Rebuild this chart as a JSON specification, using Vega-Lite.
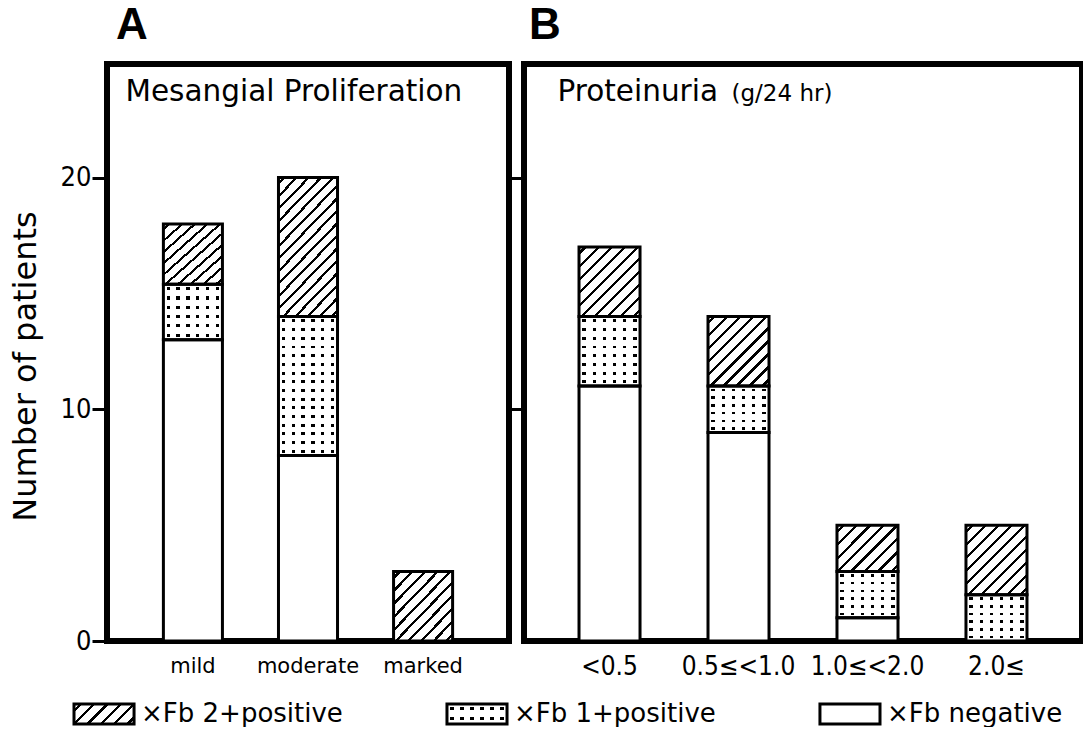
{
  "$schema": "https://vega.github.io/schema/vega-lite/v6.json",
  "padding": {"left": 6, "top": 1, "right": 0, "bottom": 0},
  "background": "white",
  "datasets": {
    "panelA": [
      {"cat": "mild", "status": "neg", "rank": 1, "n": 13},
      {"cat": "mild", "status": "1+", "rank": 2, "n": 2.4},
      {"cat": "mild", "status": "2+", "rank": 3, "n": 2.6},
      {"cat": "moderate", "status": "neg", "rank": 1, "n": 8},
      {"cat": "moderate", "status": "1+", "rank": 2, "n": 6},
      {"cat": "moderate", "status": "2+", "rank": 3, "n": 6},
      {"cat": "marked", "status": "2+", "rank": 3, "n": 3}
    ],
    "panelB": [
      {"cat": "<0.5", "status": "neg", "rank": 1, "n": 11},
      {"cat": "<0.5", "status": "1+", "rank": 2, "n": 3},
      {"cat": "<0.5", "status": "2+", "rank": 3, "n": 3},
      {"cat": "0.5≤<1.0", "status": "neg", "rank": 1, "n": 9},
      {"cat": "0.5≤<1.0", "status": "1+", "rank": 2, "n": 2},
      {"cat": "0.5≤<1.0", "status": "2+", "rank": 3, "n": 3},
      {"cat": "1.0≤<2.0", "status": "neg", "rank": 1, "n": 1},
      {"cat": "1.0≤<2.0", "status": "1+", "rank": 2, "n": 2},
      {"cat": "1.0≤<2.0", "status": "2+", "rank": 3, "n": 2},
      {"cat": "2.0≤", "status": "1+", "rank": 2, "n": 2},
      {"cat": "2.0≤", "status": "2+", "rank": 3, "n": 3}
    ],
    "legend": [
      {"status": "2+", "label": "×Fb 2+positive"},
      {"status": "1+", "label": "×Fb 1+positive"},
      {"status": "neg", "label": "×Fb negative"}
    ]
  },
  "config": {
    "view": {"stroke": "black", "strokeWidth": 6},
    "font": "DejaVu Sans",
    "axis": {"labelColor": "black", "titleColor": "black", "tickColor": "black", "grid": false, "domain": false},
    "title": {"color": "black"},
    "style": {
      "h8": {"color": {"gradient": "linear", "x1": 0, "y1": 0, "x2": 1.116, "y2": 0.847, "stops": [
        {"offset": 0.0469, "color": "white"}, {"offset": 0.0469, "color": "black"}, {"offset": 0.0781, "color": "black"}, {"offset": 0.0781, "color": "white"},
        {"offset": 0.1719, "color": "white"}, {"offset": 0.1719, "color": "black"}, {"offset": 0.2031, "color": "black"}, {"offset": 0.2031, "color": "white"},
        {"offset": 0.2969, "color": "white"}, {"offset": 0.2969, "color": "black"}, {"offset": 0.3281, "color": "black"}, {"offset": 0.3281, "color": "white"},
        {"offset": 0.4219, "color": "white"}, {"offset": 0.4219, "color": "black"}, {"offset": 0.4531, "color": "black"}, {"offset": 0.4531, "color": "white"},
        {"offset": 0.5469, "color": "white"}, {"offset": 0.5469, "color": "black"}, {"offset": 0.5781, "color": "black"}, {"offset": 0.5781, "color": "white"},
        {"offset": 0.6719, "color": "white"}, {"offset": 0.6719, "color": "black"}, {"offset": 0.7031, "color": "black"}, {"offset": 0.7031, "color": "white"},
        {"offset": 0.7969, "color": "white"}, {"offset": 0.7969, "color": "black"}, {"offset": 0.8281, "color": "black"}, {"offset": 0.8281, "color": "white"},
        {"offset": 0.9219, "color": "white"}, {"offset": 0.9219, "color": "black"}, {"offset": 0.9531, "color": "black"}, {"offset": 0.9531, "color": "white"}
      ]}},
      "h10": {"color": {"gradient": "linear", "x1": 0, "y1": 0, "x2": 0.931, "y2": 1.061, "stops": [
        {"offset": 0.0375, "color": "white"}, {"offset": 0.0375, "color": "black"}, {"offset": 0.0625, "color": "black"}, {"offset": 0.0625, "color": "white"},
        {"offset": 0.1375, "color": "white"}, {"offset": 0.1375, "color": "black"}, {"offset": 0.1625, "color": "black"}, {"offset": 0.1625, "color": "white"},
        {"offset": 0.2375, "color": "white"}, {"offset": 0.2375, "color": "black"}, {"offset": 0.2625, "color": "black"}, {"offset": 0.2625, "color": "white"},
        {"offset": 0.3375, "color": "white"}, {"offset": 0.3375, "color": "black"}, {"offset": 0.3625, "color": "black"}, {"offset": 0.3625, "color": "white"},
        {"offset": 0.4375, "color": "white"}, {"offset": 0.4375, "color": "black"}, {"offset": 0.4625, "color": "black"}, {"offset": 0.4625, "color": "white"},
        {"offset": 0.5375, "color": "white"}, {"offset": 0.5375, "color": "black"}, {"offset": 0.5625, "color": "black"}, {"offset": 0.5625, "color": "white"},
        {"offset": 0.6375, "color": "white"}, {"offset": 0.6375, "color": "black"}, {"offset": 0.6625, "color": "black"}, {"offset": 0.6625, "color": "white"},
        {"offset": 0.7375, "color": "white"}, {"offset": 0.7375, "color": "black"}, {"offset": 0.7625, "color": "black"}, {"offset": 0.7625, "color": "white"},
        {"offset": 0.8375, "color": "white"}, {"offset": 0.8375, "color": "black"}, {"offset": 0.8625, "color": "black"}, {"offset": 0.8625, "color": "white"},
        {"offset": 0.9375, "color": "white"}, {"offset": 0.9375, "color": "black"}, {"offset": 0.9625, "color": "black"}, {"offset": 0.9625, "color": "white"}
      ]}},
      "h16": {"color": {"gradient": "linear", "x1": 0, "y1": 0, "x2": 0.529, "y2": 1.207, "stops": [
        {"offset": 0.0234, "color": "white"}, {"offset": 0.0234, "color": "black"}, {"offset": 0.0391, "color": "black"}, {"offset": 0.0391, "color": "white"},
        {"offset": 0.0859, "color": "white"}, {"offset": 0.0859, "color": "black"}, {"offset": 0.1016, "color": "black"}, {"offset": 0.1016, "color": "white"},
        {"offset": 0.1484, "color": "white"}, {"offset": 0.1484, "color": "black"}, {"offset": 0.1641, "color": "black"}, {"offset": 0.1641, "color": "white"},
        {"offset": 0.2109, "color": "white"}, {"offset": 0.2109, "color": "black"}, {"offset": 0.2266, "color": "black"}, {"offset": 0.2266, "color": "white"},
        {"offset": 0.2734, "color": "white"}, {"offset": 0.2734, "color": "black"}, {"offset": 0.2891, "color": "black"}, {"offset": 0.2891, "color": "white"},
        {"offset": 0.3359, "color": "white"}, {"offset": 0.3359, "color": "black"}, {"offset": 0.3516, "color": "black"}, {"offset": 0.3516, "color": "white"},
        {"offset": 0.3984, "color": "white"}, {"offset": 0.3984, "color": "black"}, {"offset": 0.4141, "color": "black"}, {"offset": 0.4141, "color": "white"},
        {"offset": 0.4609, "color": "white"}, {"offset": 0.4609, "color": "black"}, {"offset": 0.4766, "color": "black"}, {"offset": 0.4766, "color": "white"},
        {"offset": 0.5234, "color": "white"}, {"offset": 0.5234, "color": "black"}, {"offset": 0.5391, "color": "black"}, {"offset": 0.5391, "color": "white"},
        {"offset": 0.5859, "color": "white"}, {"offset": 0.5859, "color": "black"}, {"offset": 0.6016, "color": "black"}, {"offset": 0.6016, "color": "white"},
        {"offset": 0.6484, "color": "white"}, {"offset": 0.6484, "color": "black"}, {"offset": 0.6641, "color": "black"}, {"offset": 0.6641, "color": "white"},
        {"offset": 0.7109, "color": "white"}, {"offset": 0.7109, "color": "black"}, {"offset": 0.7266, "color": "black"}, {"offset": 0.7266, "color": "white"},
        {"offset": 0.7734, "color": "white"}, {"offset": 0.7734, "color": "black"}, {"offset": 0.7891, "color": "black"}, {"offset": 0.7891, "color": "white"},
        {"offset": 0.8359, "color": "white"}, {"offset": 0.8359, "color": "black"}, {"offset": 0.8516, "color": "black"}, {"offset": 0.8516, "color": "white"},
        {"offset": 0.8984, "color": "white"}, {"offset": 0.8984, "color": "black"}, {"offset": 0.9141, "color": "black"}, {"offset": 0.9141, "color": "white"},
        {"offset": 0.9609, "color": "white"}, {"offset": 0.9609, "color": "black"}, {"offset": 0.9766, "color": "black"}, {"offset": 0.9766, "color": "white"}
      ]}},
      "hl": {"color": {"gradient": "linear", "x1": 0, "y1": 0, "x2": 1.2, "y2": 0.4, "stops": [
        {"offset": 0.0625, "color": "white"}, {"offset": 0.0625, "color": "black"}, {"offset": 0.1042, "color": "black"}, {"offset": 0.1042, "color": "white"},
        {"offset": 0.2292, "color": "white"}, {"offset": 0.2292, "color": "black"}, {"offset": 0.2708, "color": "black"}, {"offset": 0.2708, "color": "white"},
        {"offset": 0.3958, "color": "white"}, {"offset": 0.3958, "color": "black"}, {"offset": 0.4375, "color": "black"}, {"offset": 0.4375, "color": "white"},
        {"offset": 0.5625, "color": "white"}, {"offset": 0.5625, "color": "black"}, {"offset": 0.6042, "color": "black"}, {"offset": 0.6042, "color": "white"},
        {"offset": 0.7292, "color": "white"}, {"offset": 0.7292, "color": "black"}, {"offset": 0.7708, "color": "black"}, {"offset": 0.7708, "color": "white"},
        {"offset": 0.8958, "color": "white"}, {"offset": 0.8958, "color": "black"}, {"offset": 0.9375, "color": "black"}, {"offset": 0.9375, "color": "white"}
      ]}},
      "r2": {"color": {"gradient": "linear", "x1": 0, "y1": 0, "x2": 0, "y2": 1, "stops": [
        {"offset": 0.16, "color": "rgba(0,0,0,0)"}, {"offset": 0.16, "color": "black"}, {"offset": 0.32, "color": "black"}, {"offset": 0.32, "color": "rgba(0,0,0,0)"},
        {"offset": 0.66, "color": "rgba(0,0,0,0)"}, {"offset": 0.66, "color": "black"}, {"offset": 0.82, "color": "black"}, {"offset": 0.82, "color": "rgba(0,0,0,0)"}
      ]}},
      "r6": {"color": {"gradient": "linear", "x1": 0, "y1": 0, "x2": 0, "y2": 1, "stops": [
        {"offset": 0.055, "color": "rgba(0,0,0,0)"}, {"offset": 0.055, "color": "black"}, {"offset": 0.111, "color": "black"}, {"offset": 0.111, "color": "rgba(0,0,0,0)"},
        {"offset": 0.222, "color": "rgba(0,0,0,0)"}, {"offset": 0.222, "color": "black"}, {"offset": 0.278, "color": "black"}, {"offset": 0.278, "color": "rgba(0,0,0,0)"},
        {"offset": 0.389, "color": "rgba(0,0,0,0)"}, {"offset": 0.389, "color": "black"}, {"offset": 0.444, "color": "black"}, {"offset": 0.444, "color": "rgba(0,0,0,0)"},
        {"offset": 0.555, "color": "rgba(0,0,0,0)"}, {"offset": 0.555, "color": "black"}, {"offset": 0.611, "color": "black"}, {"offset": 0.611, "color": "rgba(0,0,0,0)"},
        {"offset": 0.722, "color": "rgba(0,0,0,0)"}, {"offset": 0.722, "color": "black"}, {"offset": 0.778, "color": "black"}, {"offset": 0.778, "color": "rgba(0,0,0,0)"},
        {"offset": 0.889, "color": "rgba(0,0,0,0)"}, {"offset": 0.889, "color": "black"}, {"offset": 0.944, "color": "black"}, {"offset": 0.944, "color": "rgba(0,0,0,0)"}
      ]}},
      "r8": {"color": {"gradient": "linear", "x1": 0, "y1": 0, "x2": 0, "y2": 1, "stops": [
        {"offset": 0.0417, "color": "rgba(0,0,0,0)"}, {"offset": 0.0417, "color": "black"}, {"offset": 0.0833, "color": "black"}, {"offset": 0.0833, "color": "rgba(0,0,0,0)"},
        {"offset": 0.1667, "color": "rgba(0,0,0,0)"}, {"offset": 0.1667, "color": "black"}, {"offset": 0.2083, "color": "black"}, {"offset": 0.2083, "color": "rgba(0,0,0,0)"},
        {"offset": 0.2917, "color": "rgba(0,0,0,0)"}, {"offset": 0.2917, "color": "black"}, {"offset": 0.3333, "color": "black"}, {"offset": 0.3333, "color": "rgba(0,0,0,0)"},
        {"offset": 0.4167, "color": "rgba(0,0,0,0)"}, {"offset": 0.4167, "color": "black"}, {"offset": 0.4583, "color": "black"}, {"offset": 0.4583, "color": "rgba(0,0,0,0)"},
        {"offset": 0.5417, "color": "rgba(0,0,0,0)"}, {"offset": 0.5417, "color": "black"}, {"offset": 0.5833, "color": "black"}, {"offset": 0.5833, "color": "rgba(0,0,0,0)"},
        {"offset": 0.6667, "color": "rgba(0,0,0,0)"}, {"offset": 0.6667, "color": "black"}, {"offset": 0.7083, "color": "black"}, {"offset": 0.7083, "color": "rgba(0,0,0,0)"},
        {"offset": 0.7917, "color": "rgba(0,0,0,0)"}, {"offset": 0.7917, "color": "black"}, {"offset": 0.8333, "color": "black"}, {"offset": 0.8333, "color": "rgba(0,0,0,0)"},
        {"offset": 0.9167, "color": "rgba(0,0,0,0)"}, {"offset": 0.9167, "color": "black"}, {"offset": 0.9583, "color": "black"}, {"offset": 0.9583, "color": "rgba(0,0,0,0)"}
      ]}},
      "r16": {"color": {"gradient": "linear", "x1": 0, "y1": 0, "x2": 0, "y2": 1, "stops": [
        {"offset": 0.0208, "color": "rgba(0,0,0,0)"}, {"offset": 0.0208, "color": "black"}, {"offset": 0.0417, "color": "black"}, {"offset": 0.0417, "color": "rgba(0,0,0,0)"},
        {"offset": 0.0833, "color": "rgba(0,0,0,0)"}, {"offset": 0.0833, "color": "black"}, {"offset": 0.1042, "color": "black"}, {"offset": 0.1042, "color": "rgba(0,0,0,0)"},
        {"offset": 0.1458, "color": "rgba(0,0,0,0)"}, {"offset": 0.1458, "color": "black"}, {"offset": 0.1667, "color": "black"}, {"offset": 0.1667, "color": "rgba(0,0,0,0)"},
        {"offset": 0.2083, "color": "rgba(0,0,0,0)"}, {"offset": 0.2083, "color": "black"}, {"offset": 0.2292, "color": "black"}, {"offset": 0.2292, "color": "rgba(0,0,0,0)"},
        {"offset": 0.2708, "color": "rgba(0,0,0,0)"}, {"offset": 0.2708, "color": "black"}, {"offset": 0.2917, "color": "black"}, {"offset": 0.2917, "color": "rgba(0,0,0,0)"},
        {"offset": 0.3333, "color": "rgba(0,0,0,0)"}, {"offset": 0.3333, "color": "black"}, {"offset": 0.3542, "color": "black"}, {"offset": 0.3542, "color": "rgba(0,0,0,0)"},
        {"offset": 0.3958, "color": "rgba(0,0,0,0)"}, {"offset": 0.3958, "color": "black"}, {"offset": 0.4167, "color": "black"}, {"offset": 0.4167, "color": "rgba(0,0,0,0)"},
        {"offset": 0.4583, "color": "rgba(0,0,0,0)"}, {"offset": 0.4583, "color": "black"}, {"offset": 0.4792, "color": "black"}, {"offset": 0.4792, "color": "rgba(0,0,0,0)"},
        {"offset": 0.5208, "color": "rgba(0,0,0,0)"}, {"offset": 0.5208, "color": "black"}, {"offset": 0.5417, "color": "black"}, {"offset": 0.5417, "color": "rgba(0,0,0,0)"},
        {"offset": 0.5833, "color": "rgba(0,0,0,0)"}, {"offset": 0.5833, "color": "black"}, {"offset": 0.6042, "color": "black"}, {"offset": 0.6042, "color": "rgba(0,0,0,0)"},
        {"offset": 0.6458, "color": "rgba(0,0,0,0)"}, {"offset": 0.6458, "color": "black"}, {"offset": 0.6667, "color": "black"}, {"offset": 0.6667, "color": "rgba(0,0,0,0)"},
        {"offset": 0.7083, "color": "rgba(0,0,0,0)"}, {"offset": 0.7083, "color": "black"}, {"offset": 0.7292, "color": "black"}, {"offset": 0.7292, "color": "rgba(0,0,0,0)"},
        {"offset": 0.7708, "color": "rgba(0,0,0,0)"}, {"offset": 0.7708, "color": "black"}, {"offset": 0.7917, "color": "black"}, {"offset": 0.7917, "color": "rgba(0,0,0,0)"},
        {"offset": 0.8333, "color": "rgba(0,0,0,0)"}, {"offset": 0.8333, "color": "black"}, {"offset": 0.8542, "color": "black"}, {"offset": 0.8542, "color": "rgba(0,0,0,0)"},
        {"offset": 0.8958, "color": "rgba(0,0,0,0)"}, {"offset": 0.8958, "color": "black"}, {"offset": 0.9167, "color": "black"}, {"offset": 0.9167, "color": "rgba(0,0,0,0)"},
        {"offset": 0.9583, "color": "rgba(0,0,0,0)"}, {"offset": 0.9583, "color": "black"}, {"offset": 0.9792, "color": "black"}, {"offset": 0.9792, "color": "rgba(0,0,0,0)"}
      ]}},
      "c6": {"color": {"gradient": "linear", "x1": 0, "y1": 0, "x2": 1, "y2": 0, "stops": [
        {"offset": 0.055, "color": "white"}, {"offset": 0.055, "color": "rgba(255,255,255,0)"}, {"offset": 0.111, "color": "rgba(255,255,255,0)"}, {"offset": 0.111, "color": "white"},
        {"offset": 0.222, "color": "white"}, {"offset": 0.222, "color": "rgba(255,255,255,0)"}, {"offset": 0.278, "color": "rgba(255,255,255,0)"}, {"offset": 0.278, "color": "white"},
        {"offset": 0.389, "color": "white"}, {"offset": 0.389, "color": "rgba(255,255,255,0)"}, {"offset": 0.444, "color": "rgba(255,255,255,0)"}, {"offset": 0.444, "color": "white"},
        {"offset": 0.555, "color": "white"}, {"offset": 0.555, "color": "rgba(255,255,255,0)"}, {"offset": 0.611, "color": "rgba(255,255,255,0)"}, {"offset": 0.611, "color": "white"},
        {"offset": 0.722, "color": "white"}, {"offset": 0.722, "color": "rgba(255,255,255,0)"}, {"offset": 0.778, "color": "rgba(255,255,255,0)"}, {"offset": 0.778, "color": "white"},
        {"offset": 0.889, "color": "white"}, {"offset": 0.889, "color": "rgba(255,255,255,0)"}, {"offset": 0.944, "color": "rgba(255,255,255,0)"}, {"offset": 0.944, "color": "white"}
      ]}}
    }
  },
  "spacing": 19,
  "bounds": "full",
  "vconcat": [
    {
      "spacing": 15,
      "bounds": "flush",
      "hconcat": [
        {
          "width": 402,
          "height": 577,
          "title": {"text": "A", "anchor": "start", "frame": "group", "font": "Liberation Sans", "fontSize": 44, "fontWeight": "bold", "offset": 16, "dx": 9, "color": "black"},
          "data": {"name": "panelA"},
          "transform": [{"stack": "n", "groupby": ["cat"], "sort": [{"field": "rank", "order": "ascending"}], "as": ["lo", "hi"]}],
          "encoding": {
            "x": {"field": "cat", "type": "nominal", "sort": ["mild", "moderate", "marked"], "scale": {"paddingInner": 0.487, "paddingOuter": 0.49}, "axis": null},
            "y": {"field": "hi", "type": "quantitative", "scale": {"domain": [0, 24.9]}, "axis": null},
            "y2": {"field": "lo"}
          },
          "layer": [
            {
              "mark": {"type": "bar", "fill": "white"},
              "encoding": {
                "x": {"field": "cat", "type": "nominal", "sort": ["mild", "moderate", "marked"], "scale": {"paddingInner": 0.487, "paddingOuter": 0.49},
                  "axis": {"orient": "bottom", "title": null, "labelAngle": 0, "ticks": false, "tickSize": 0, "domain": false, "labelPadding": 14, "labelFontSize": 21, "labelFont": "DejaVu Sans"}},
                "y": {"field": "hi", "type": "quantitative", "scale": {"domain": [0, 24.9]},
                  "axis": {"orient": "left", "values": [0, 10, 20], "tickSize": 15, "tickWidth": 3, "labelPadding": 1, "labelFontSize": 27, "labelFont": "DejaVu Sans Condensed, DejaVu Sans", "title": "Number of patients", "titleFontSize": 32, "titleFont": "DejaVu Sans", "titleFontWeight": "normal", "titlePadding": 18, "titleY": 302, "domain": false, "grid": false}}
              }
            },
            {"transform": [{"filter": "datum.status == '2+' && datum.n < 4"}], "mark": {"type": "bar", "style": "h10"}},
            {"transform": [{"filter": "datum.status == '2+' && datum.n >= 4"}], "mark": {"type": "bar", "style": "h16"}},
            {"transform": [{"filter": "datum.status == '1+' && datum.n < 4"}], "mark": {"type": "bar", "style": "r6"}},
            {"transform": [{"filter": "datum.status == '1+' && datum.n >= 4"}], "mark": {"type": "bar", "style": "r16"}},
            {"transform": [{"filter": "datum.status == '1+'"}], "mark": {"type": "bar", "style": "c6"}},
            {
              "mark": {"type": "bar", "fill": "transparent", "stroke": "black", "strokeWidth": 3},
              "encoding": {
                "x": {"field": "cat", "type": "nominal", "sort": ["mild", "moderate", "marked"], "scale": {"paddingInner": 0.487, "paddingOuter": 0.49},
                  "axis": {"orient": "top", "title": "Mesangial Proliferation", "labels": false, "ticks": false, "domain": false, "titleFontSize": 29.5, "titleFont": "DejaVu Sans", "titleFontWeight": "normal", "titleAnchor": "start", "titleAlign": "left", "titleBaseline": "alphabetic", "titleX": 18, "titleY": 36}}
              }
            }
          ],
          "resolve": {"axis": {"x": "independent", "y": "independent"}}
        },
        {
          "width": 558,
          "height": 577,
          "title": {"text": "B", "anchor": "start", "frame": "group", "font": "Liberation Sans", "fontSize": 44, "fontWeight": "bold", "offset": 16, "dx": 5, "color": "black"},
          "data": {"name": "panelB"},
          "transform": [{"stack": "n", "groupby": ["cat"], "sort": [{"field": "rank", "order": "ascending"}], "as": ["lo", "hi"]}],
          "encoding": {
            "x": {"field": "cat", "type": "nominal", "sort": ["<0.5", "0.5≤<1.0", "1.0≤<2.0", "2.0≤"], "scale": {"paddingInner": 0.527, "paddingOuter": 0.4265}, "axis": null},
            "y": {"field": "hi", "type": "quantitative", "scale": {"domain": [0, 24.9]}, "axis": null},
            "y2": {"field": "lo"}
          },
          "layer": [
            {
              "mark": {"type": "bar", "fill": "white"},
              "encoding": {
                "x": {"field": "cat", "type": "nominal", "sort": ["<0.5", "0.5≤<1.0", "1.0≤<2.0", "2.0≤"], "scale": {"paddingInner": 0.527, "paddingOuter": 0.4265},
                  "axis": {"orient": "bottom", "title": null, "labelAngle": 0, "ticks": false, "tickSize": 0, "domain": false, "labelPadding": 12, "labelFontSize": 26, "labelFont": "DejaVu Sans Condensed, DejaVu Sans"}},
                "y": {"field": "hi", "type": "quantitative", "scale": {"domain": [0, 24.9]},
                  "axis": {"orient": "left", "values": [10, 20], "labels": false, "tickSize": 15, "tickWidth": 3, "title": null, "domain": false, "grid": false}}
              }
            },
            {"transform": [{"filter": "datum.status == '2+' && datum.n > 2.5"}], "mark": {"type": "bar", "style": "h10"}},
            {"transform": [{"filter": "datum.status == '2+' && datum.n <= 2.5"}], "mark": {"type": "bar", "style": "h8"}},
            {"transform": [{"filter": "datum.status == '1+' && datum.n > 2.5"}], "mark": {"type": "bar", "style": "r8"}},
            {"transform": [{"filter": "datum.status == '1+' && datum.n <= 2.5"}], "mark": {"type": "bar", "style": "r6"}},
            {
              "transform": [{"filter": "datum.status == '1+'"}],
              "mark": {"type": "bar", "style": "c6"},
              "encoding": {
                "x": {"field": "cat", "type": "nominal", "sort": ["<0.5", "0.5≤<1.0", "1.0≤<2.0", "2.0≤"], "scale": {"paddingInner": 0.527, "paddingOuter": 0.4265},
                  "axis": {"orient": "top", "title": "(g/24 hr)", "labels": false, "ticks": false, "domain": false, "titleFontSize": 23, "titleFont": "DejaVu Sans", "titleFontWeight": "normal", "titleAnchor": "start", "titleAlign": "left", "titleBaseline": "alphabetic", "titleX": 207, "titleY": 36}}
              }
            },
            {
              "mark": {"type": "bar", "fill": "transparent", "stroke": "black", "strokeWidth": 3},
              "encoding": {
                "x": {"field": "cat", "type": "nominal", "sort": ["<0.5", "0.5≤<1.0", "1.0≤<2.0", "2.0≤"], "scale": {"paddingInner": 0.527, "paddingOuter": 0.4265},
                  "axis": {"orient": "top", "title": "Proteinuria", "labels": false, "ticks": false, "domain": false, "titleFontSize": 29.5, "titleFont": "DejaVu Sans", "titleFontWeight": "normal", "titleAnchor": "start", "titleAlign": "left", "titleBaseline": "alphabetic", "titleX": 33, "titleY": 36}}
              }
            }
          ],
          "resolve": {"axis": {"x": "independent", "y": "independent"}}
        }
      ]
    },
    {
      "width": 900,
      "height": 20,
      "view": {"stroke": null},
      "data": {"name": "legend"},
      "encoding": {
        "x": {"field": "status", "type": "nominal", "sort": ["2+", "1+", "neg"], "scale": {"range": [-33, 773], "paddingInner": 0.839, "paddingOuter": 0, "align": 0}, "axis": null}
      },
      "layer": [
        {"mark": {"type": "bar", "fill": "white"}},
        {"transform": [{"filter": "datum.status == '2+'"}], "mark": {"type": "bar", "style": "hl"}},
        {"transform": [{"filter": "datum.status == '1+'"}], "mark": {"type": "bar", "style": "r2"}},
        {"transform": [{"filter": "datum.status == '1+'"}], "mark": {"type": "bar", "style": "c6"}},
        {"mark": {"type": "bar", "fill": "transparent", "stroke": "black", "strokeWidth": 3}},
        {
          "mark": {"type": "text", "align": "left", "baseline": "middle", "dx": 7, "fontSize": 26, "font": "DejaVu Sans", "color": "black"},
          "encoding": {
            "x": {"field": "status", "type": "nominal", "sort": ["2+", "1+", "neg"], "scale": {"range": [-33, 773], "paddingInner": 0.839, "paddingOuter": 0, "align": 0}, "axis": null, "bandPosition": 1},
            "text": {"field": "label"}
          }
        }
      ]
    }
  ]
}
